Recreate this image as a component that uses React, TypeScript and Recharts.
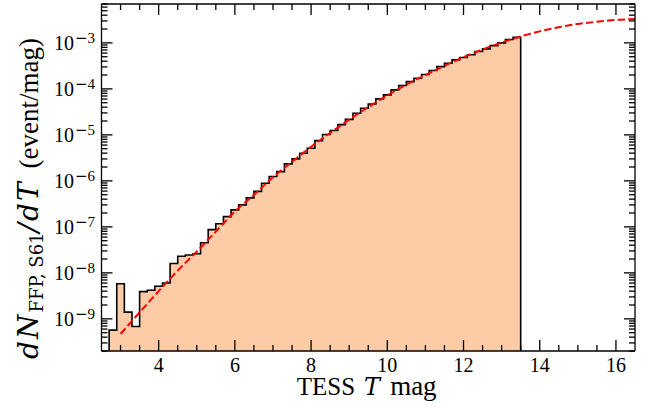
import { ComposedChart, Area, Line, XAxis, YAxis } from "recharts";

const X_DOMAIN: [number, number] = [2.5, 16.5];
const Y_DOMAIN: [number, number] = [2e-10, 7e-3];

// histogram bin edges (TESS T mag), 0.2 mag bins
const binEdges = [
    2.7, 2.9, 3.1, 3.3, 3.5, 3.7, 3.9, 4.1, 4.3, 4.5, 4.7, 4.9, 5.1, 5.3, 5.5,
    5.7, 5.9, 6.1, 6.3, 6.5, 6.7, 6.9, 7.1, 7.3, 7.5, 7.7, 7.9, 8.1, 8.3, 8.5,
    8.7, 8.9, 9.1, 9.3, 9.5, 9.7, 9.9, 10.1, 10.3, 10.5, 10.7, 10.9, 11.1, 11.3,
    11.5, 11.7, 11.9, 12.1, 12.3, 12.5, 12.7, 12.9, 13.1, 13.3, 13.5,
];

// dN/dT in each bin (event/mag)
const binRates = [
    5.7e-10, 5.8e-9, 1.4e-9, 6.8e-10, 3.9e-9, 4.2e-9, 5.1e-9, 6.0e-9, 1.6e-8, 2.3e-8,
    2.45e-8, 2.6e-8, 4.5e-8, 8.7e-8, 1.17e-7, 1.67e-7, 2.34e-7, 3.0e-7, 4.27e-7, 5.9e-7,
    8.9e-7, 1.24e-6, 1.59e-6, 2.34e-6, 3.0e-6, 3.98e-6, 5.1e-6, 7.5e-6, 1.02e-5, 1.24e-5,
    1.67e-5, 2.17e-5, 2.95e-5, 3.8e-5, 4.7e-5, 6.05e-5, 7.4e-5, 9.5e-5, 1.18e-4, 1.44e-4,
    1.7e-4, 2.05e-4, 2.5e-4, 3.05e-4, 3.6e-4, 4.27e-4, 4.8e-4, 5.5e-4, 6.5e-4, 7.4e-4,
    8.7e-4, 1.0e-3, 1.18e-3, 1.32e-3,
];

// red dashed model curve
const modelMag = [
    3.0, 3.5, 4.0, 4.5, 5.0, 5.5, 6.0, 6.5, 7.0, 7.5, 8.0, 8.5, 9.0, 9.5,
    10.0, 10.5, 11.0, 11.5, 12.0, 12.5, 13.0, 13.5, 14.0, 14.5, 15.0, 15.5, 16.0, 16.5,
];
const modelRate = [
    4.7e-10, 1.38e-9, 4.0e-9, 1.12e-8, 2.9e-8, 7.9e-8, 2.15e-7, 5.0e-7, 1.2e-6, 2.6e-6,
    5.5e-6, 1.1e-5, 2.14e-5, 4.0e-5, 7.2e-5, 1.23e-4, 2.0e-4, 3.16e-4, 4.9e-4, 7.2e-4,
    1.02e-3, 1.38e-3, 1.78e-3, 2.19e-3, 2.57e-3, 2.88e-3, 3.16e-3, 3.3e-3,
];

// tick labels
const xTicks = [
    3, 3.5, 4, 4.5, 5, 5.5, 6, 6.5, 7, 7.5, 8, 8.5, 9, 9.5, 10, 10.5,
    11, 11.5, 12, 12.5, 13, 13.5, 14, 14.5, 15, 15.5, 16,
];
const xMajor = [4, 6, 8, 10, 12, 14, 16];
const yDecades = [-10, -9, -8, -7, -6, -5, -4, -3];

const yTicks: number[] = [];
yDecades.forEach((d) => {
    for (let k = 1; k <= 9; k++) {
        const v = k * Math.pow(10, d);
        if (v >= Y_DOMAIN[0] * 0.999 && v <= Y_DOMAIN[1] * 1.001) yTicks.push(v);
    }
});

const lastEdge = binEdges[binEdges.length - 1];
const histRows = [
    { x: binEdges[0], hist: Y_DOMAIN[0] },
    ...binRates.map((v, i) => ({ x: binEdges[i], hist: v })),
    { x: lastEdge, hist: binRates[binRates.length - 1] },
    { x: lastEdge, hist: Y_DOMAIN[0] },
];
const modelRows = modelMag.map((m, i) => ({ x: m, model: modelRate[i] }));
const data = [...histRows, ...modelRows];

const INK = "#000";
const MAJOR = 11;
const MINOR = 6;
const GAP = 8;
const FONT = "'Liberation Serif', 'Times New Roman', serif";
const MATH = "'DejaVu Serif', serif";

const isDecade = (v: number) =>
    Math.abs(Math.log10(v) - Math.round(Math.log10(v))) < 1e-6;

function BottomTick({ x, y, payload }: any) {
    const base = y - GAP;
    const major = xMajor.includes(payload.value);
    return (
        <g>
            <line x1={x} x2={x} y1={base} y2={base - (major ? MAJOR : MINOR)} stroke={INK} strokeWidth={1.3} />
            {major && (
                <text x={x} y={base + 20.5} textAnchor="middle" fontSize={20} fontFamily={FONT} fill={INK}>
                    {payload.value}
                </text>
            )}
        </g>
    );
}

function TopTick({ x, y, payload }: any) {
    const base = y + GAP;
    const major = xMajor.includes(payload.value);
    return <line x1={x} x2={x} y1={base} y2={base + (major ? MAJOR : MINOR)} stroke={INK} strokeWidth={1.3} />;
}

function LeftTick({ x, y, payload }: any) {
    const base = x + GAP;
    const major = isDecade(payload.value);
    const exp = Math.round(Math.log10(payload.value));
    return (
        <g>
            <line x1={base} x2={base + (major ? MAJOR : MINOR)} y1={y} y2={y} stroke={INK} strokeWidth={1.3} />
            {major && (
                <text x={base - 6.5} y={y + 7.5} textAnchor="end" fontSize={20} fontFamily={FONT} fill={INK}>
                    10
                    <tspan dy={-7.5} dx={1} fontSize={15} fontFamily={MATH}>{"\u2212"}</tspan>
                    <tspan fontSize={15}>{Math.abs(exp)}</tspan>
                </text>
            )}
        </g>
    );
}

function RightTick({ x, y, payload }: any) {
    const base = x - GAP;
    const major = isDecade(payload.value);
    return <line x1={base} x2={base - (major ? MAJOR : MINOR)} y1={y} y2={y} stroke={INK} strokeWidth={1.3} />;
}

function YTitle() {
    const cx = 38;
    const cy = 359;
    return (
        <text transform={`rotate(-90, ${cx}, ${cy})`} x={cx} y={cy} textAnchor="start" fill={INK}>
            <tspan fontFamily={MATH} fontStyle="italic" fontSize={28} letterSpacing={2}>dN</tspan>
            <tspan fontFamily={MATH} fontSize={18} dy={5}>FFP, S61</tspan>
            <tspan fontFamily={MATH} fontStyle="italic" fontSize={28} letterSpacing={2} dy={-5}>/dT</tspan>
            <tspan fontFamily={FONT} fontSize={27} dx={12}>(event/mag)</tspan>
        </text>
    );
}

function XTitle({ viewBox }: any) {
    const start = viewBox.x + viewBox.width / 2 - 71.5;
    return (
        <text x={start} y={394.5} textAnchor="start" fontSize={25} fontFamily={FONT} fill={INK}>
            TESS
            <tspan dx={9} fontFamily={MATH} fontStyle="italic" fontSize={24}>T</tspan>
            <tspan dx={10} fontSize={27}>mag</tspan>
        </text>
    );
}

export default function App() {
    const axisLine = { stroke: INK, strokeWidth: 1.3 };
    return (
        <div style={{ position: "absolute", left: 0, top: 0, background: "#fff" }}>
            <ComposedChart width={657} height={409} data={data} margin={{ top: 3, right: 21, bottom: 0, left: 0 }}>
                <XAxis
                    dataKey="x"
                    type="number"
                    domain={X_DOMAIN}
                    allowDataOverflow
                    ticks={xTicks}
                    interval={0}
                    height={58}
                    tickSize={0}
                    tickMargin={GAP}
                    tickLine={false}
                    axisLine={axisLine}
                    tick={BottomTick}
                    label={<XTitle />}
                />
                <XAxis
                    xAxisId="top"
                    orientation="top"
                    dataKey="x"
                    type="number"
                    domain={X_DOMAIN}
                    allowDataOverflow
                    ticks={xTicks}
                    interval={0}
                    height={1}
                    tickSize={0}
                    tickMargin={GAP}
                    tickLine={false}
                    axisLine={axisLine}
                    tick={TopTick}
                />
                <YAxis
                    type="number"
                    scale="log"
                    domain={Y_DOMAIN}
                    allowDataOverflow
                    ticks={yTicks}
                    interval={0}
                    width={101.5}
                    tickSize={0}
                    tickMargin={GAP}
                    tickLine={false}
                    axisLine={axisLine}
                    tick={LeftTick}
                    label={<YTitle />}
                />
                <YAxis
                    yAxisId="right"
                    orientation="right"
                    type="number"
                    scale="log"
                    domain={Y_DOMAIN}
                    allowDataOverflow
                    ticks={yTicks}
                    interval={0}
                    width={1}
                    tickSize={0}
                    tickMargin={GAP}
                    tickLine={false}
                    axisLine={axisLine}
                    tick={RightTick}
                />
                <Area
                    dataKey="hist"
                    type="stepAfter"
                    baseValue={Y_DOMAIN[0]}
                    connectNulls
                    stroke={INK}
                    strokeWidth={1.6}
                    fill="#fecba7"
                    fillOpacity={1}
                    dot={false}
                    activeDot={false}
                    isAnimationActive={false}
                />
                <Line
                    dataKey="model"
                    type="monotone"
                    connectNulls
                    stroke="#ff0000"
                    strokeWidth={2}
                    strokeDasharray="7.4 3.2"
                    dot={false}
                    activeDot={false}
                    isAnimationActive={false}
                />
            </ComposedChart>
        </div>
    );
}
